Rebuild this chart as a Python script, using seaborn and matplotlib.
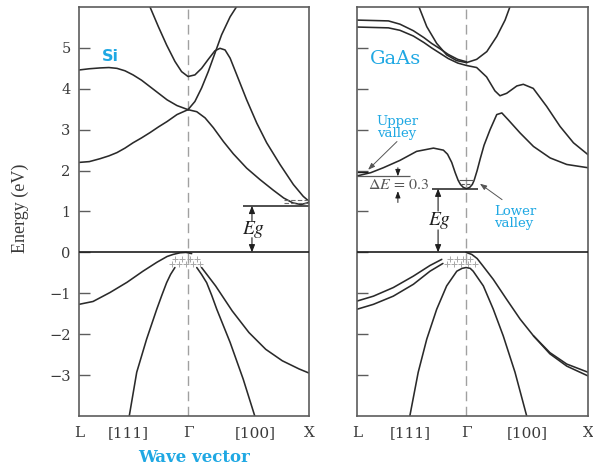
import matplotlib
matplotlib.use("Agg")
import matplotlib.pyplot as plt
import seaborn as sns

sns.set_style("white")
plt.rcParams["font.family"] = ["DejaVu Serif", "Liberation Serif"]
plt.rcParams["mathtext.fontset"] = "stix"

LINE = "#2a2a2a"
AXC = "#5c5c5c"
TXT = "#3a3a3a"
CYAN = "#1fa8e3"
GAMMA_SI = 0.474
GAMMA_GA = 0.474

# ---------------- Si bands (k: L=0 ... Gamma ... X=1, energy in eV) ----------------
si_c1_k = [0.000, 0.045, 0.091, 0.130, 0.165, 0.200, 0.235, 0.272, 0.309, 0.346, 0.383, 0.426, 0.474]
si_c1_e = [2.20, 2.22, 2.29, 2.36, 2.44, 2.55, 2.68, 2.80, 2.93, 3.07, 3.20, 3.37, 3.49]

si_c2_k = [0.000, 0.045, 0.091, 0.130, 0.165, 0.200, 0.235, 0.272, 0.309, 0.346, 0.383, 0.426, 0.474]
si_c2_e = [4.46, 4.49, 4.51, 4.52, 4.50, 4.44, 4.34, 4.21, 4.05, 3.89, 3.73, 3.59, 3.49]

si_cb_k = [0.474, 0.504, 0.533, 0.562, 0.591, 0.620, 0.657, 0.690]
si_cb_e = [3.49, 3.69, 4.02, 4.42, 4.87, 5.32, 5.76, 6.05]

si_ca_k = [0.474, 0.512, 0.548, 0.584, 0.628, 0.671, 0.729, 0.787, 0.845, 0.890, 0.930, 0.965, 1.000]
si_ca_e = [3.49, 3.44, 3.29, 3.05, 2.71, 2.41, 2.06, 1.78, 1.52, 1.33, 1.21, 1.17, 1.22]

si_cu_k = [0.305, 0.345, 0.381, 0.417, 0.446, 0.474, 0.504, 0.533, 0.562, 0.591, 0.613,
           0.635, 0.657, 0.686, 0.729, 0.773, 0.816, 0.874, 0.932, 0.975, 1.000]
si_cu_e = [6.05, 5.52, 5.07, 4.67, 4.42, 4.30, 4.34, 4.50, 4.72, 4.93, 4.99,
           4.95, 4.75, 4.34, 3.73, 3.16, 2.68, 2.15, 1.66, 1.37, 1.25]

si_hhl_k = [0.000, 0.061, 0.135, 0.209, 0.278, 0.339, 0.383, 0.409, 0.439, 0.465, 0.490]
si_hhl_e = [-1.27, -1.20, -0.98, -0.73, -0.46, -0.24, -0.10, -0.05, -0.01, 0.00, -0.03]

si_lhl_k = [0.417, 0.398, 0.381, 0.360, 0.338, 0.294, 0.251, 0.217]
si_lhl_e = [-0.37, -0.54, -0.74, -1.05, -1.39, -2.12, -2.93, -4.05]

si_lhr_k = [0.512, 0.533, 0.555, 0.577, 0.599, 0.657, 0.714, 0.767]
si_lhr_e = [-0.37, -0.54, -0.74, -1.05, -1.39, -2.20, -3.10, -4.05]

si_hhr_k = [0.533, 0.594, 0.666, 0.739, 0.812, 0.884, 0.957, 1.000]
si_hhr_e = [-0.37, -0.82, -1.43, -1.96, -2.37, -2.65, -2.85, -2.95]

si_holes_top_k = [0.417, 0.449, 0.481, 0.513]
si_holes_low_k = [0.404, 0.435, 0.465, 0.496, 0.526]
si_holes_e = [-0.15, -0.29]

si_eg = 1.14
si_elec_e = [1.27, 1.21]

# ---------------- GaAs bands ----------------
ga_u_k = [0.265, 0.302, 0.345, 0.388, 0.431, 0.474, 0.518, 0.562, 0.605, 0.641, 0.665]
ga_u_e = [6.05, 5.52, 5.11, 4.83, 4.69, 4.64, 4.72, 4.91, 5.28, 5.68, 6.05]

ga_c3_k = [0.000, 0.136, 0.186, 0.244, 0.290, 0.323, 0.359, 0.395, 0.436, 0.474]
ga_c3_e = [5.68, 5.66, 5.58, 5.42, 5.25, 5.11, 4.98, 4.84, 4.72, 4.66]

ga_c4_k = [0.000, 0.136, 0.186, 0.244, 0.290, 0.323, 0.359, 0.395, 0.436, 0.474,
           0.518, 0.561, 0.597, 0.619, 0.648, 0.692, 0.720, 0.763, 0.821, 0.879, 0.937, 1.000]
ga_c4_e = [5.51, 5.49, 5.43, 5.29, 5.13, 5.00, 4.87, 4.74, 4.63, 4.57,
           4.52, 4.29, 3.95, 3.83, 3.89, 4.07, 4.11, 4.01, 3.57, 3.08, 2.68, 2.39]

ga_c1_k = [0.000, 0.060, 0.114, 0.186, 0.258, 0.331, 0.374, 0.392, 0.410, 0.425, 0.438, 0.448,
           0.460, 0.474, 0.488, 0.499, 0.507, 0.520, 0.534, 0.550, 0.576, 0.605, 0.627,
           0.655, 0.706, 0.764, 0.836, 0.908, 1.000]
ga_c1_e = [1.87, 1.95, 2.07, 2.25, 2.47, 2.55, 2.50, 2.40, 2.20, 1.95, 1.76, 1.66,
           1.59, 1.56, 1.59, 1.66, 1.76, 2.00, 2.30, 2.62, 3.00, 3.37, 3.41,
           3.24, 2.92, 2.59, 2.31, 2.15, 2.07]

ga_hhl_k = [0.000, 0.071, 0.157, 0.244, 0.316, 0.367]
ga_hhl_e = [-1.19, -1.07, -0.86, -0.58, -0.32, -0.17]

ga_lhl_k = [0.000, 0.071, 0.157, 0.244, 0.316, 0.372]
ga_lhl_e = [-1.39, -1.27, -1.07, -0.78, -0.46, -0.27]

ga_hhr_k = [0.472, 0.497, 0.520, 0.545, 0.590, 0.648, 0.706, 0.764, 0.835, 0.908, 1.000]
ga_hhr_e = [0.00, -0.05, -0.15, -0.33, -0.66, -1.15, -1.63, -2.04, -2.45, -2.73, -2.93]

ga_lhr_k = [0.764, 0.835, 0.908, 1.000]
ga_lhr_e = [-2.04, -2.48, -2.78, -3.02]

ga_so_k = [0.227, 0.265, 0.302, 0.345, 0.388, 0.432, 0.455, 0.472, 0.490, 0.503,
           0.547, 0.590, 0.633, 0.684, 0.737]
ga_so_e = [-4.05, -2.93, -2.12, -1.39, -0.82, -0.46, -0.39, -0.37, -0.39, -0.46,
           -0.82, -1.39, -2.04, -2.93, -4.05]

ga_holes_top_k = [0.403, 0.432, 0.460, 0.489]
ga_holes_low_k = [0.390, 0.420, 0.450, 0.481, 0.511]
ga_holes_e = [-0.15, -0.28]

ga_eg = 1.56
ga_upper_valley = 1.86
ga_upper_fill = 1.96
ga_elec_e = [1.76, 1.68]

energy_ticks = [-3, -2, -1, 0, 1, 2, 3, 4, 5]
si_kticks = [0.0, 0.213, GAMMA_SI, 0.765, 1.0]
ga_kticks = [0.0, 0.229, GAMMA_GA, 0.736, 1.0]
k_labels = ["L", "[111]", "\u0393", "[100]", "X"]


def band(ax, k, e):
    sns.lineplot(x=k, y=e, ax=ax, sort=False, estimator=None, color=LINE,
                 linewidth=1.15, legend=False)


def holes(ax, top_k, low_k, levels):
    sns.scatterplot(x=top_k, y=[levels[0]] * len(top_k), ax=ax, marker="+",
                    color="#a8a8a8", s=16, linewidth=0.7, legend=False)
    sns.scatterplot(x=low_k, y=[levels[1]] * len(low_k), ax=ax, marker="+",
                    color="#a8a8a8", s=16, linewidth=0.7, legend=False)


def frame(ax, gamma, kticks, show_labels):
    ax.set_xlim(0, 1)
    ax.set_ylim(-4, 6)
    ax.axhline(0, color="#1e1e1e", lw=1.2, zorder=3)
    ax.axvline(gamma, color="#a0a0a0", lw=1.0, dashes=(7, 4), zorder=1)
    for s in ax.spines.values():
        s.set_color(AXC)
        s.set_linewidth(1.2)
        s.set_visible(True)
    ax.set_yticks(energy_ticks)
    ax.set_yticklabels([f"\u2212{-t}" if t < 0 else str(t) for t in energy_ticks])
    ax.tick_params(axis="y", direction="in", length=8, width=1.0, color=AXC,
                   labelsize=10.5, labelcolor=TXT, pad=6, left=True,
                   labelleft=show_labels)
    ax.set_xticks(kticks)
    ax.set_xticklabels(k_labels)
    ax.tick_params(axis="x", length=0, labelsize=11, labelcolor=TXT, pad=7)
    ax.set_xlabel("")
    ax.set_ylabel("")


def eg_arrow(ax, k, eg, text_e, gap):
    ap = dict(arrowstyle="-|>,head_length=0.45,head_width=0.18", color="#1e1e1e",
              lw=0.8, shrinkA=0, shrinkB=0)
    ax.annotate("", xy=(k, eg), xytext=(k, text_e + gap), arrowprops=ap)
    ax.annotate("", xy=(k, 0), xytext=(k, text_e - gap), arrowprops=ap)
    ax.text(k + 0.005, text_e, r"$Eg$", fontsize=14, color="#1e1e1e",
            ha="center", va="center")


fig = plt.figure(figsize=(5.93, 4.67), dpi=100)
ax1 = fig.add_axes([79 / 593, 51 / 467, 230 / 593, 409 / 467])
ax2 = fig.add_axes([357 / 593, 51 / 467, 231 / 593, 409 / 467])

# ---- Si panel ----
for k, e in [(si_c1_k, si_c1_e), (si_c2_k, si_c2_e), (si_cb_k, si_cb_e),
             (si_ca_k, si_ca_e), (si_cu_k, si_cu_e), (si_hhl_k, si_hhl_e),
             (si_lhl_k, si_lhl_e), (si_lhr_k, si_lhr_e), (si_hhr_k, si_hhr_e)]:
    band(ax1, k, e)
holes(ax1, si_holes_top_k, si_holes_low_k, si_holes_e)
ax1.hlines(si_eg, 0.713, 1.0, color="#1e1e1e", lw=1.1)
for lvl in si_elec_e:
    ax1.hlines(lvl, 0.893, 0.995, color="#6a6a6a", lw=0.8, linestyles=(0, (4, 2)))
eg_arrow(ax1, 0.752, si_eg, 0.56, 0.2)
frame(ax1, GAMMA_SI, si_kticks, True)
ax1.text(0.098, 4.78, "Si", color=CYAN, fontsize=11.5, fontweight="bold",
         ha="left", va="center", family="DejaVu Sans")

# ---- GaAs panel ----
for k, e in [(ga_u_k, ga_u_e), (ga_c3_k, ga_c3_e), (ga_c4_k, ga_c4_e),
             (ga_c1_k, ga_c1_e), (ga_hhl_k, ga_hhl_e), (ga_lhl_k, ga_lhl_e),
             (ga_hhr_k, ga_hhr_e), (ga_lhr_k, ga_lhr_e), (ga_so_k, ga_so_e)]:
    band(ax2, k, e)
holes(ax2, ga_holes_top_k, ga_holes_low_k, ga_holes_e)
ax2.hlines(ga_eg, 0.325, 0.524, color="#1e1e1e", lw=1.1)
ax2.hlines(ga_upper_valley, 0.0, 0.229, color="#5a5a5a", lw=0.9)
ax2.hlines(ga_upper_fill, 0.0, 0.048, color="#1e1e1e", lw=1.0)
ax2.hlines(ga_elec_e[0], 0.440, 0.505, color="#5a5a5a", lw=0.8)
ax2.hlines(ga_elec_e[1], 0.450, 0.497, color="#5a5a5a", lw=0.8, linestyles=(0, (3, 2)))
eg_arrow(ax2, 0.351, ga_eg, 0.78, 0.23)

# delta E between the two valleys
ap_small = dict(arrowstyle="-|>,head_length=0.4,head_width=0.15", color="#1e1e1e",
                lw=0.7, shrinkA=0, shrinkB=0)
ax2.annotate("", xy=(0.177, ga_upper_valley), xytext=(0.177, 2.07), arrowprops=ap_small)
ax2.annotate("", xy=(0.177, 1.50), xytext=(0.177, 1.22), arrowprops=ap_small)
ax2.text(0.18, 1.67, r"$\Delta E\,=\,0.3$", fontsize=11.5, color="#555555",
         ha="center", va="center")

# valley call-outs
ap_thin = dict(arrowstyle="-|>,head_length=0.4,head_width=0.15", color="#555555",
               lw=0.7, shrinkA=0, shrinkB=0)
ax2.annotate("", xy=(0.048, 2.02), xytext=(0.173, 2.71), arrowprops=ap_thin)
ax2.text(0.173, 3.05, "Upper\nvalley", color=CYAN, fontsize=9.5, ha="center",
         va="center", linespacing=0.95)
ax2.annotate("", xy=(0.532, 1.68), xytext=(0.628, 1.29), arrowprops=ap_thin)
ax2.text(0.593, 0.85, "Lower\nvalley", color=CYAN, fontsize=9.5, ha="left",
         va="center", linespacing=0.95)
ax2.text(0.056, 4.73, "GaAs", color=CYAN, fontsize=14, ha="left", va="center")
frame(ax2, GAMMA_GA, ga_kticks, False)

fig.text(20 / 593, 1 - 208 / 467, "Energy (eV)", rotation=90, fontsize=13,
         color=TXT, ha="center", va="center", family="Liberation Serif")
fig.text(194 / 593, 1 - 458 / 467, "Wave vector", fontsize=12, fontweight="bold",
         color=CYAN, ha="center", va="center")

fig.savefig("out.png", dpi=100)
